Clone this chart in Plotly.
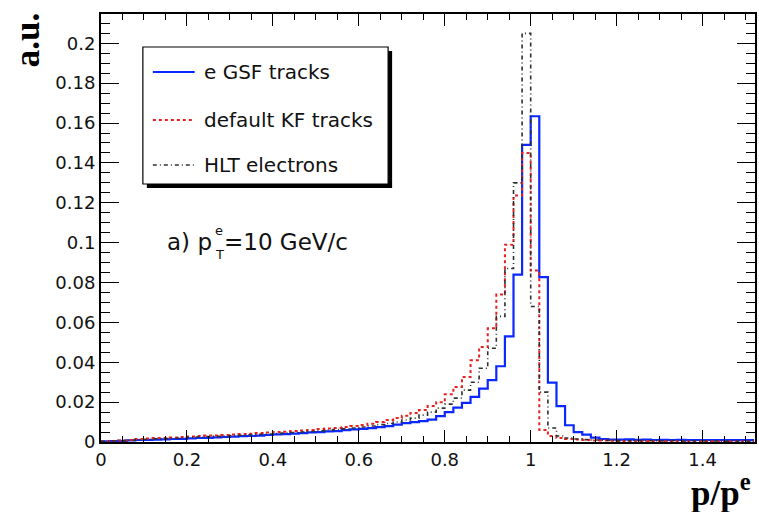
import plotly.graph_objects as go

# Binning: 76 bins of width 0.02 covering p/p^e from 0 to 1.52
bin_width = 0.02
n_bins = 76
bin_edges = [round(i * bin_width, 2) for i in range(n_bins + 1)]

# Normalised p/p^e distributions (a.u.), one value per bin
gsf_tracks = [
    0.0003, 0.0004, 0.0006, 0.0008, 0.0010, 0.0010, 0.0012, 0.0013, 0.0015, 0.0016,
    0.0018, 0.0020, 0.0021, 0.0023, 0.0025, 0.0027, 0.0029, 0.0030, 0.0032, 0.0035,
    0.0038, 0.0040, 0.0042, 0.0045, 0.0048, 0.0050, 0.0053, 0.0055, 0.0060, 0.0063,
    0.0066, 0.0070, 0.0075, 0.0080, 0.0087, 0.0095, 0.0100, 0.0105, 0.0112, 0.0130,
    0.0150, 0.0172, 0.0196, 0.0226, 0.0268, 0.0310, 0.0380, 0.0530, 0.0840, 0.1490,
    0.1634, 0.0827, 0.0298, 0.0180, 0.0084, 0.0050, 0.0037, 0.0022, 0.0015, 0.0012,
    0.0012, 0.0013, 0.0011, 0.0012, 0.0010, 0.0011, 0.0010, 0.0011, 0.0009, 0.0010,
    0.0010, 0.0009, 0.0010, 0.0009, 0.0010, 0.0009,
]
kf_tracks = [
    0.0003, 0.0005, 0.0008, 0.0010, 0.0015, 0.0018, 0.0020, 0.0020, 0.0022, 0.0025,
    0.0028, 0.0030, 0.0032, 0.0033, 0.0035, 0.0038, 0.0040, 0.0042, 0.0045, 0.0048,
    0.0050, 0.0052, 0.0055, 0.0058, 0.0060, 0.0065, 0.0068, 0.0070, 0.0075, 0.0080,
    0.0085, 0.0092, 0.0100, 0.0110, 0.0120, 0.0132, 0.0145, 0.0160, 0.0180, 0.0200,
    0.0240, 0.0276, 0.0326, 0.0410, 0.0476, 0.0570, 0.0740, 0.0990, 0.1237, 0.1450,
    0.0860, 0.0060, 0.0030, 0.0020, 0.0015, 0.0012, 0.0010, 0.0008, 0.0007, 0.0006,
    0.0005, 0.0005, 0.0004, 0.0005, 0.0004, 0.0004, 0.0003, 0.0004, 0.0003, 0.0003,
    0.0004, 0.0003, 0.0003, 0.0003, 0.0002, 0.0003,
]
hlt_electrons = [
    0.0003, 0.0005, 0.0007, 0.0009, 0.0012, 0.0014, 0.0016, 0.0017, 0.0019, 0.0020,
    0.0023, 0.0025, 0.0027, 0.0028, 0.0030, 0.0032, 0.0034, 0.0036, 0.0038, 0.0040,
    0.0043, 0.0045, 0.0048, 0.0050, 0.0053, 0.0056, 0.0060, 0.0063, 0.0066, 0.0070,
    0.0075, 0.0080, 0.0087, 0.0093, 0.0100, 0.0110, 0.0120, 0.0135, 0.0150, 0.0170,
    0.0190, 0.0220, 0.0260, 0.0300, 0.0370, 0.0470, 0.0630, 0.0870, 0.1300, 0.2050,
    0.0680, 0.0250, 0.0070, 0.0030, 0.0020, 0.0015, 0.0012, 0.0010, 0.0009, 0.0008,
    0.0007, 0.0006, 0.0007, 0.0006, 0.0006, 0.0005, 0.0006, 0.0005, 0.0006, 0.0005,
    0.0005, 0.0005, 0.0004, 0.0005, 0.0004, 0.0004,
]

series_names = ["e GSF tracks", "default KF tracks", "HLT electrons"]
series_values = [gsf_tracks, kf_tracks, hlt_electrons]
series_colors = ["#0a28ff", "#e82020", "#303030"]
series_dashes = ["solid", "3px,3px", "4px,3px,1px,3px"]
series_widths = [2.2, 2.0, 1.6]

x_tickvals = [0, 0.2, 0.4, 0.6, 0.8, 1.0, 1.2, 1.4]
x_ticktext = ["0", "0.2", "0.4", "0.6", "0.8", "1", "1.2", "1.4"]
y_tickvals = [0, 0.02, 0.04, 0.06, 0.08, 0.1, 0.12, 0.14, 0.16, 0.18, 0.2]
y_ticktext = ["0", "0.02", "0.04", "0.06", "0.08", "0.1", "0.12", "0.14", "0.16", "0.18", "0.2"]

X_RANGE = [0, 1.522]
Y_RANGE = [0, 0.2147]

W, H = 759, 512
ML, MR, MT, MB = 101, 2, 14, 70
PW, PH = W - ML - MR, H - MT - MB


def px(x):
    return (x - ML) / PW


def py(y):
    return (H - MB - y) / PH


fig = go.Figure()

# Step histograms: stairs drawn through the bin edges
for name, vals, col, dash, lw in zip(series_names, series_values, series_colors,
                                     series_dashes, series_widths):
    fig.add_trace(go.Scatter(
        x=bin_edges,
        y=vals + [vals[-1]],
        mode="lines",
        line=dict(color=col, width=lw, dash=dash, shape="hv"),
        name=name,
        showlegend=False,
        hoverinfo="skip",
    ))

tick_font = dict(family="DejaVu Sans", size=18, color="#111111")

fig.update_xaxes(
    range=X_RANGE, tickvals=x_tickvals, ticktext=x_ticktext,
    ticks="inside", ticklen=12, tickwidth=1.3, tickcolor="black",
    minor=dict(dtick=0.05, tick0=0, ticks="inside", ticklen=6, tickwidth=1.1, tickcolor="black"),
    showline=True, linewidth=2, linecolor="black", mirror="allticks",
    showgrid=False, zeroline=False, tickfont=tick_font,
)
fig.update_yaxes(
    range=Y_RANGE, tickvals=y_tickvals, ticktext=y_ticktext,
    ticks="inside", ticklen=18, tickwidth=1.3, tickcolor="black",
    minor=dict(dtick=0.005, tick0=0, ticks="inside", ticklen=9, tickwidth=1.1, tickcolor="black"),
    showline=True, linewidth=2, linecolor="black", mirror="allticks",
    showgrid=False, zeroline=False, tickfont=tick_font,
)

# Legend box with drop shadow
fig.add_shape(type="rect", xref="paper", yref="paper",
              x0=px(147), x1=px(393), y0=py(188), y1=py(51),
              fillcolor="black", line=dict(width=0))
fig.add_shape(type="rect", xref="paper", yref="paper",
              x0=px(143), x1=px(389), y0=py(184), y1=py(47),
              fillcolor="white", line=dict(color="black", width=1.2))

legend_rows = [72, 120, 165]
for name, col, dash, lw, yr in zip(series_names, series_colors, series_dashes,
                                   series_widths, legend_rows):
    fig.add_shape(type="line", xref="paper", yref="paper",
                  x0=px(153), x1=px(195), y0=py(yr), y1=py(yr),
                  line=dict(color=col, width=lw, dash=dash))
    fig.add_annotation(xref="paper", yref="paper", x=px(202), y=py(yr),
                       xanchor="left", yanchor="middle", showarrow=False,
                       text=name, font=dict(family="DejaVu Sans", size=20, color="#111111"))

# Kinematic label: a) p_T^e = 10 GeV/c (stacked sub/superscript)
label_font = dict(family="DejaVu Sans", size=23, color="#111111")
small_font = dict(family="DejaVu Sans", size=13, color="#111111")
fig.add_annotation(xref="paper", yref="paper", x=px(213), y=py(242),
                   xanchor="right", yanchor="middle", showarrow=False,
                   text="a) p", font=label_font, borderpad=0)
fig.add_annotation(xref="paper", yref="paper", x=px(214), y=py(230),
                   xanchor="left", yanchor="middle", showarrow=False,
                   text="e", font=small_font, borderpad=0)
fig.add_annotation(xref="paper", yref="paper", x=px(214), y=py(254),
                   xanchor="left", yanchor="middle", showarrow=False,
                   text="T", font=small_font, borderpad=0)
fig.add_annotation(xref="paper", yref="paper", x=px(223), y=py(242),
                   xanchor="left", yanchor="middle", showarrow=False,
                   text="=10 GeV/c", font=label_font, borderpad=0)

# Axis titles
title_font = dict(family="Liberation Serif", size=35, color="black")
fig.add_annotation(xref="paper", yref="paper", x=px(27), y=py(11),
                   xanchor="center", yanchor="top", showarrow=False, textangle=-90,
                   text="<b>a.u.</b>", font=title_font)
fig.add_annotation(xref="paper", yref="paper", x=px(755), y=py(515),
                   xanchor="right", yanchor="bottom", showarrow=False,
                   text="<b>p/p<sup>e</sup></b>", font=title_font)

fig.update_layout(
    width=W, height=H,
    margin=dict(l=ML, r=MR, t=MT, b=MB),
    paper_bgcolor="white", plot_bgcolor="white",
    showlegend=False,
)

fig.write_html("out.html")
